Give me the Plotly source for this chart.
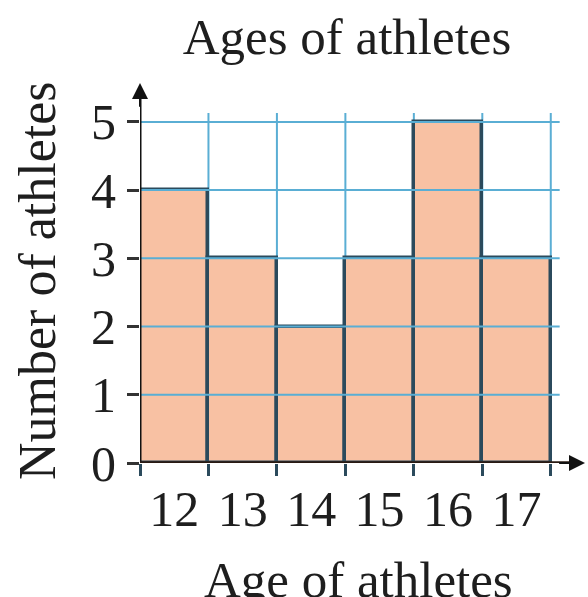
import plotly.graph_objects as go

ages = ["12", "13", "14", "15", "16", "17"]
counts = [4, 3, 2, 3, 5, 3]
y_ticks = [0, 1, 2, 3, 4, 5]

FONT = "Liberation Serif, Times New Roman, serif"
TXT = "#1e1e1e"
GRID = "#5AAED4"
EDGE = "#2B4A5C"
FILL = "#F8C1A3"

xpos = list(range(len(ages)))
edges = [i - 0.5 for i in range(len(ages) + 1)]

fig = go.Figure()
fig.add_trace(go.Bar(
    x=xpos, y=counts, width=1,
    marker=dict(color=FILL, line=dict(color=EDGE, width=3.5)),
    hoverinfo="skip",
))

shapes = []
# horizontal grid lines
for v in y_ticks[1:]:
    shapes.append(dict(type="line", xref="x", yref="y", x0=-0.5, x1=5.63, y0=v, y1=v,
                       line=dict(color=GRID, width=2), layer="above"))
# vertical grid lines
for e in edges[1:]:
    shapes.append(dict(type="line", xref="x", yref="y", x0=e, x1=e, y0=0, y1=5.13,
                       line=dict(color=GRID, width=2), layer="below"))
# y axis line
shapes.append(dict(type="line", xref="x", yref="y", x0=-0.5, x1=-0.5, y0=0, y1=5.45,
                   line=dict(color="#111", width=3), layer="above"))
# x axis line
shapes.append(dict(type="line", xref="x", yref="y", x0=-0.5, x1=5.85, y0=0, y1=0,
                   line=dict(color="#2a1a12", width=3.5), layer="above"))

annotations = [
    dict(x=-0.5, y=5.57, ax=-0.5, ay=5.2, xref="x", yref="y", axref="x", ayref="y",
         showarrow=True, arrowhead=2, arrowsize=1.6, arrowwidth=2, arrowcolor="#111", text=""),
    dict(x=6.0, y=0, ax=5.6, ay=0, xref="x", yref="y", axref="x", ayref="y",
         showarrow=True, arrowhead=2, arrowsize=1.6, arrowwidth=2, arrowcolor="#111", text=""),
    dict(text="Age of athletes", xref="paper", yref="paper", x=(358 - 140) / 445, y=(463 - 580) / 380,
         xanchor="center", yanchor="middle", showarrow=False,
         font=dict(family=FONT, size=51, color=TXT)),
    dict(text="Number of athletes", xref="paper", yref="paper", x=(37 - 140) / 445, y=(463 - 281) / 380,
         xanchor="center", yanchor="middle", showarrow=False, textangle=-90,
         font=dict(family=FONT, size=52, color=TXT)),
]

fig.update_layout(
    width=588, height=597,
    margin=dict(l=140, r=3, t=83, b=134, autoexpand=False),
    paper_bgcolor="white", plot_bgcolor="white",
    showlegend=False,
    title=dict(text="Ages of athletes", x=347 / 588, xanchor="center", y=1 - 36 / 597, yanchor="middle",
               font=dict(family=FONT, size=51, color=TXT)),
    shapes=shapes,
    annotations=annotations,
    bargap=0,
)
fig.update_xaxes(
    range=[-0.5, 6.0], tickmode="array", tickvals=xpos, ticktext=ages,
    ticks="", showgrid=False, zeroline=False, showline=False, automargin=False,
    tickfont=dict(family=FONT, size=50, color=TXT),
    minor=dict(tickmode="array", tickvals=edges, ticks="outside", ticklen=12,
               tickwidth=2.5, tickcolor=EDGE, showgrid=False),
    ticklabelstandoff=12,
)
fig.update_yaxes(
    range=[0, 5.57], tickmode="array", tickvals=y_ticks,
    ticks="outside", ticklen=12, tickwidth=2.5, tickcolor="#333",
    showgrid=False, zeroline=False, showline=False, automargin=False,
    tickfont=dict(family=FONT, size=50, color=TXT),
    ticklabelstandoff=1,
)

fig.write_html("out.html", config={"displayModeBar": False},
               post_script="document.body.style.margin='0';document.body.style.overflow='hidden';")
